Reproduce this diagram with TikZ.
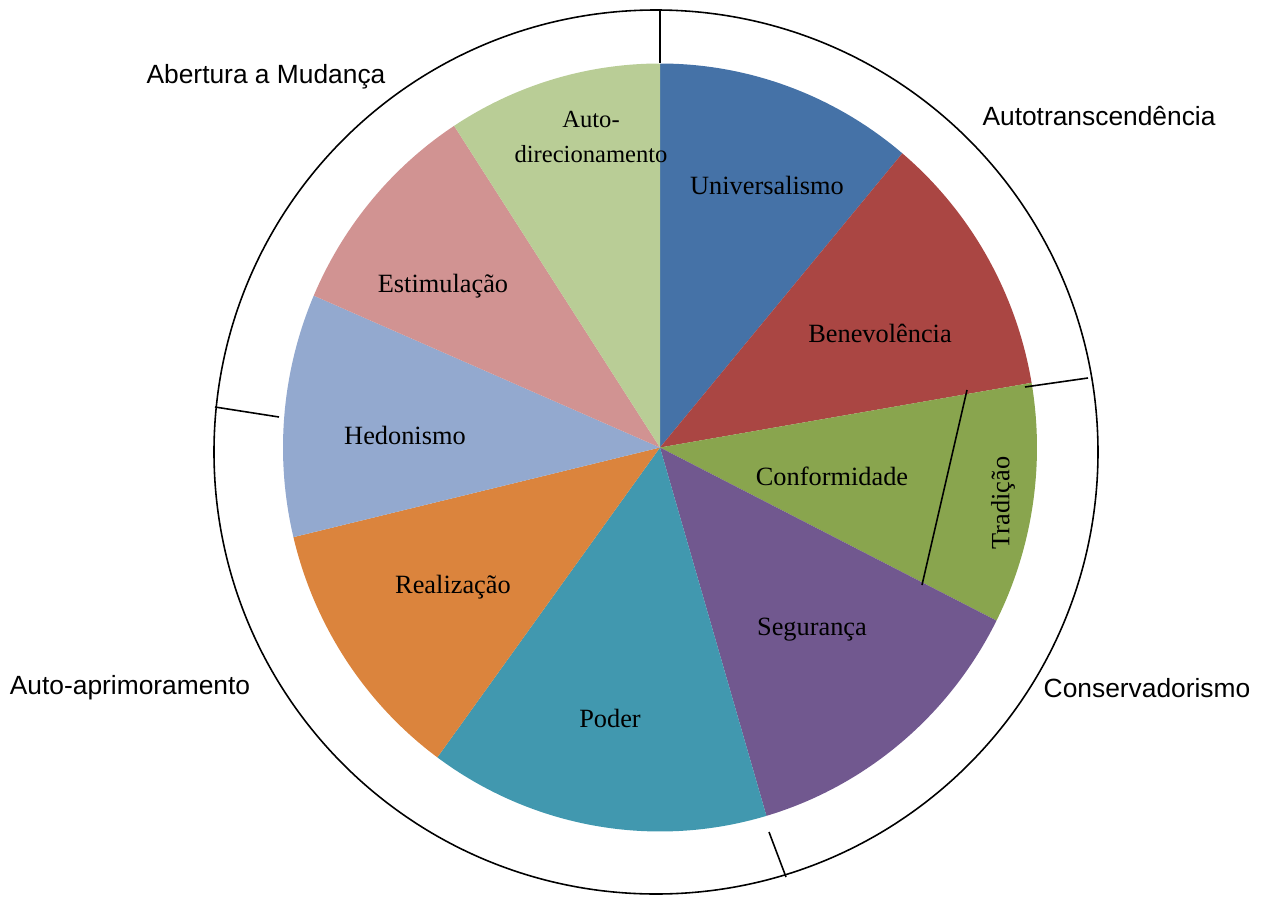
\documentclass[tikz,border=0pt]{standalone}
\usepackage{fontspec}
\setmainfont{Liberation Serif}
\setsansfont{Liberation Sans}
\usetikzlibrary{positioning}
\definecolor{univ}{RGB}{69,114,167}
\definecolor{bene}{RGB}{170,70,67}
\definecolor{conf}{RGB}{137,165,78}
\definecolor{segu}{RGB}{113,88,143}
\definecolor{pode}{RGB}{65,152,175}
\definecolor{real}{RGB}{219,132,61}
\definecolor{hedo}{RGB}{147,169,207}
\definecolor{esti}{RGB}{209,147,146}
\definecolor{adir}{RGB}{185,205,150}
\tikzset{
  slice/.style={font=\fontsize{15}{19.9}\selectfont, align=center, inner sep=0pt},
  group/.style={font=\sffamily\fontsize{15}{18}\selectfont, inner sep=0pt},
  tick/.style={line width=0.9pt}
}

\begin{document}
\begin{tikzpicture}[x=0.02cm, y=0.02cm]
    \useasboundingbox (-660,-449.5) rectangle (601,447.5);

    % Draw the slices
    \foreach \a/\b/\c in {90/50/univ, 50/9.7/bene, 9.7/-26.8/conf, -26.8/-73.6/segu,
        -73.6/-126.2/pode, -126.2/-166.5/real, -166.5/-203.3/hedo, -203.3/-236.9/esti, -236.9/-270/adir} {
        \fill[fill=\c] (0,0) -- (\a:377 and 384) arc[start angle=\a, end angle=\b, x radius=377, y radius=384] -- cycle;
    }
    \draw[tick] (307,57.5) -- (262,-137.5);

    % Draw outer ring and ticks
    \draw[tick] (-4,-4.5) circle (442);
    \draw[tick] (0,438.5) -- (0,384.5);
    \draw[tick] (428,69.5) -- (365,60.5);
    \draw[tick] (-445,40.5) -- (-381,30.5);
    \draw[tick] (126,-429.5) -- (109,-384.5);

    % Slice labels
    \node[slice] (universalismo) at (107,262.5) {Universalismo};
    \node[slice] (benevolencia) at (220,114.5) {Benevolência};
    \node[slice] (conformidade) at (172,-28.5) {Conformidade};
    \node[slice, rotate=90] (tradicao) at (343,-55.5) {Tradição};
    \node[slice] (seguranca) at (152,-182.5) {Segurança};
    \node[slice] (poder) at (-50,-270.5) {Poder};
    \node[slice] (realizacao) at (-207,-139.5) {Realização};
    \node[slice] (hedonismo) at (-255,12.5) {Hedonismo};
    \node[slice] (estimulacao) at (-217,161.5) {Estimulação};
    \node[slice, font=\fontsize{14}{19.9}\selectfont] (autodir) at (-69,310.5) {Auto-\\direcionamento};

    % Group labels
    \node[group] (abertura) at (-394,370.5) {Abertura a Mudança};
    \node[group] (autotrans) at (439,331.5) {Autotranscendência};
    \node[group] (autoapr) at (-530,-240.5) {Auto-aprimoramento};
    \node[group] (conserv) at (487,-240.5) {Conservadorismo};
\end{tikzpicture}
\end{document}
